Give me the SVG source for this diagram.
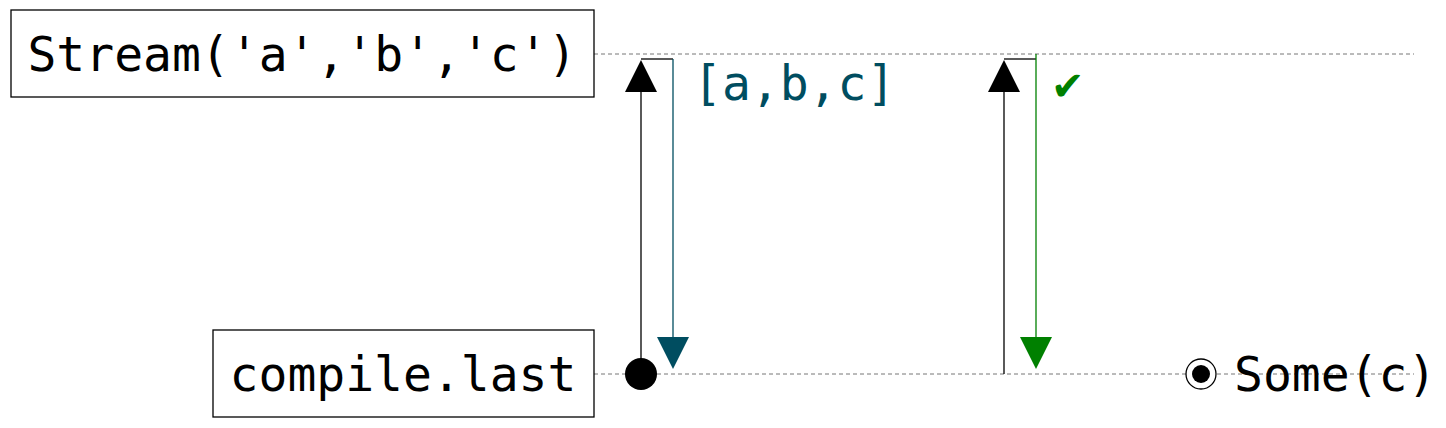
<svg xmlns="http://www.w3.org/2000/svg" width="1446" height="428" viewBox="0 0 1446 428">
<style>
.box{fill:#fff;stroke:#000;stroke-width:1.3}
.lbl{font-family:"DejaVu Sans Mono",monospace;font-size:48px}
.dash{stroke:#777;stroke-width:1;stroke-dasharray:4,3;fill:none}
.ln{stroke:#000;stroke-width:1.3;fill:none}
</style>
<rect width="1446" height="428" fill="#fff"/>
<g id="timelines">
<line class="dash" x1="594" y1="54" x2="1414" y2="54"/>
<line class="dash" x1="594" y1="374" x2="1414" y2="374"/>
</g>
<g id="stream">
<rect class="box" x="11" y="10" width="583" height="87"/>
<text class="lbl" x="302" y="71" text-anchor="middle">Stream('a','b','c')</text>
</g>
<g id="compile">
<rect class="box" x="213" y="330" width="381" height="87"/>
<text class="lbl" x="403" y="391" text-anchor="middle">compile.last</text>
</g>
<g id="connectors">
<line class="ln" x1="641" y1="374" x2="641" y2="88"/>
<polygon points="641,60 625,92 657,92" fill="#000"/>
<polyline class="ln" points="641,59 673,59"/>
<line x1="673" y1="59" x2="673" y2="340" stroke="#004d60" stroke-width="1.3"/>
<polygon points="657,337 689,337 673,369" fill="#004d60"/>
<circle cx="641" cy="374" r="16" fill="#000"/>
<text class="lbl" x="693" y="100" fill="#004d60" font-size="46">[a,b,c]</text>
<line class="ln" x1="1004" y1="374" x2="1004" y2="88"/>
<polygon points="1004,60 988,92 1020,92" fill="#000"/>
<polyline class="ln" points="1004,59 1036,59"/>
<line x1="1036" y1="54" x2="1036" y2="340" stroke="#008000" stroke-width="1.3"/>
<polygon points="1020,337 1052,337 1036,369" fill="#008000"/>
<text x="1051" y="100" fill="#008000" font-family="DejaVu Sans,sans-serif" font-size="40">✔</text>
</g>
<g id="result">
<circle cx="1201" cy="374" r="15" fill="#fff" stroke="#000" stroke-width="1.3"/>
<circle cx="1201" cy="374" r="9" fill="#000"/>
<text class="lbl" x="1234" y="391">Some(c)</text>
</g>
</svg>
